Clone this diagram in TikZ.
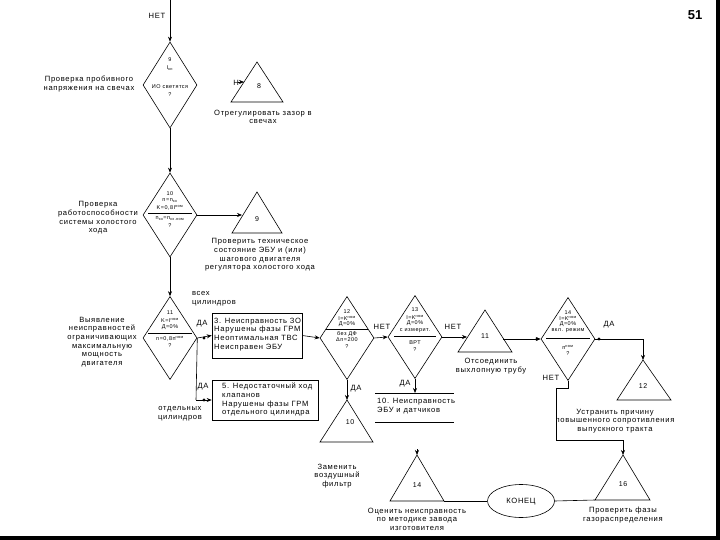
\documentclass[tikz,border=0pt]{standalone}
\usepackage{fontspec}
\setmainfont{Liberation Sans}[LetterSpace=9]
\usetikzlibrary{shapes.geometric,arrows.meta}
\begin{document}
\begin{tikzpicture}[x=1pt,y=-1pt,
  lbl/.style={font=\fontsize{7.6}{8.6}\selectfont, align=center, inner sep=0},
  lbll/.style={font=\fontsize{7.6}{8.6}\selectfont, anchor=west, inner sep=0},
  sm/.style={font=\fontsize{5.5}{6}\selectfont, inner sep=0},
  diam/.style={draw, shape=diamond, inner sep=0, minimum width=54pt, minimum height=83pt, line width=0.6pt},
  arr/.style={-{Stealth[length=5pt,width=4pt]}, line width=0.6pt},
  ln/.style={line width=0.6pt},
  dotm/.style={circle, fill, inner sep=0, minimum size=3.2pt},
  boxn/.style={draw, line width=0.6pt, inner sep=0},
  elln/.style={draw, ellipse, line width=0.6pt, inner sep=0, minimum width=67pt, minimum height=33pt}]
\useasboundingbox (0,0) rectangle (720,540);
\fill[white] (0,0) rectangle (720,540);
\fill[black] (716,0) rectangle (720,540);
\fill[black] (0,536) rectangle (720,540);

\node[font=\bfseries\fontsize{13}{14}\selectfont\addfontfeatures{LetterSpace=0}, inner sep=0] (pg) at (695,15) {51};

% ---------- diamond 9
\coordinate (top) at (170,0);
\node[diam, minimum height=86pt] (d9) at (170,85) {};
\draw[arr] (top) -- (d9.north);
\node[lbl] (nettop) at (157,16) {НЕТ};
\node[sm] (d9a) at (170,60) {9};
\node[sm] (d9b) at (170,68) {I\textsubscript{кн}};
\node[sm] (d9c) at (170,87) {ИО светятся};
\node[sm] (d9d) at (170,95) {?};
\node[lbl] (t9txt) at (89,84) {Проверка пробивного\\напряжения на свечах};

% triangle 8
\coordinate (t8a) at (257,62); \coordinate (t8l) at (231,102); \coordinate (t8r) at (283,102);
\draw[ln] (t8a) -- (t8l) -- (t8r) -- cycle;
\node[sm, font=\fontsize{7}{8}\selectfont] (t8n) at (259,86) {8};
\node[lbl] (t8h) at (236,83) {Н};
\coordinate (t8s) at (238,82); \coordinate (t8in) at (244,82);
\draw[arr] (t8s) -- (t8in);
\node[lbl] (t8txt) at (263,117) {Отрегулировать зазор в\\свечах};

% ---------- diamond 10
\node[diam, minimum height=84pt] (d10) at (170,215) {};
\draw[arr] (d9.south) -- (d10.north);
\node[sm] (d10a) at (170,194) {10};
\node[sm] (d10b) at (170,201) {n=n\textsubscript{хх}};
\node[sm] (d10c) at (170,207.5) {K=0,8I\textsuperscript{ном}};
\draw[ln] (148,213) -- (192,213);
\node[sm] (d10d) at (170,219) {n\textsubscript{хх}=n\textsubscript{хх.ном}};
\node[sm] (d10e) at (170,226) {?};
\node[lbl] (d10txt) at (98,218) {Проверка\\работоспособности\\системы холостого\\хода};

% triangle 9
\coordinate (t9a) at (257,192); \coordinate (t9l) at (232,233); \coordinate (t9r) at (282,233);
\draw[ln] (t9a) -- (t9l) -- (t9r) -- cycle;
\node[sm, font=\fontsize{7}{8}\selectfont] (t9n) at (257,219) {9};
\coordinate (t9in) at (242,215);
\draw[arr] (d10.east) -- (t9in);
\node[lbl] (t9txt) at (260,255) {Проверить техническое\\состояние ЭБУ и (или)\\шагового двигателя\\регулятора холостого хода};

% ---------- diamond 11
\node[diam] (d11) at (170,338) {};
\draw[arr] (d10.south) -- (d11.north);
\node[sm] (d11a) at (170,313) {11};
\node[sm] (d11b) at (170,320) {K=I\textsuperscript{ном}};
\node[sm] (d11c) at (170,327) {Д=0\%};
\draw[ln] (148,333) -- (192,333);
\node[sm] (d11d) at (170,339) {n=0,8n\textsuperscript{ном}};
\node[sm] (d11e) at (170,346) {?};
\node[lbl] (d11txt) at (102,342) {Выявление\\неисправностей\\ограничивающих\\максимальную\\мощность\\двигателя};
\node[lbl, align=left] (vseh) at (214,299) {всех\\цилиндров};
\node[lbl] (da11a) at (202,324) {ДА};
\node[lbl] (da11b) at (203,387) {ДА};
\node[lbl] (otd) at (180,414) {отдельных\\цилиндров};

% boxes
\node[boxn, minimum width=90pt, minimum height=45pt] (b3) at (257,335.5) {};
\node[lbll] (b3t) at (214,334.5) {\begin{tabular}{@{}l@{}}3. Неисправность ЗО\\Нарушены фазы ГРМ\\Неоптимальная ТВС\\Неисправен ЭБУ\end{tabular}};
\node[boxn, minimum width=106pt, minimum height=40pt] (b5) at (265,400) {};
\node[lbll] (b5t) at (222,400) {\begin{tabular}{@{}l@{}}5. Недостаточный ход\\клапанов\\Нарушены фазы ГРМ\\отдельного цилиндра\end{tabular}};
\node[dotm] (dt1) at (204,338) {};
\draw[arr] (d11.east) -- (b3.west);
\coordinate (c11) at (196,400);
\draw[ln] (d11.east) -- (c11);
\node[dotm] (dt2) at (204,400) {};
\draw[arr] (c11) -- (b5.west);

% ---------- diamond 12
\node[diam] (d12) at (347,338) {};
\draw[arr] (b3.east) -- (d12.west);
\node[sm] (d12a) at (347,312) {12};
\node[sm] (d12b) at (347,318) {I=K\textsuperscript{ном}};
\node[sm] (d12c) at (347,324) {Д=0\%};
\draw[ln] (326,329) -- (368,329);
\node[sm] (d12d) at (347,334) {без ДФ};
\node[sm] (d12e) at (347,340) {Δn=200};
\node[sm] (d12f) at (347,347) {?};
\node[lbl] (net12) at (382,327) {НЕТ};
\node[lbl] (da12) at (356,389) {ДА};

% triangle 10
\coordinate (t10a) at (347,400); \coordinate (t10l) at (320,442); \coordinate (t10r) at (373,442);
\draw[ln] (t10a) -- (t10l) -- (t10r) -- cycle;
\node[sm, font=\fontsize{7}{8}\selectfont] (t10n) at (350,422) {10};
\draw[arr] (d12.south) -- (t10a);
\node[lbl] (t10txt) at (337,476) {Заменить\\воздушный\\фильтр};

% ---------- diamond 13
\node[diam] (d13) at (415,337) {};
\draw[arr] (d12.east) -- (d13.west);
\node[sm] (d13a) at (415,310) {13};
\node[sm] (d13b) at (415,317) {I=K\textsuperscript{ном}};
\node[sm] (d13c) at (415,323) {Д=0\%};
\node[sm] (d13d) at (415,331) {с измерит.};
\draw[ln] (394,336) -- (436,336);
\node[sm] (d13e) at (415,343) {ВРТ};
\node[sm] (d13f) at (415,350) {?};
\node[lbl] (da13) at (405,384) {ДА};
\node[lbl] (net13) at (453,327) {НЕТ};
\coordinate (s1l) at (375,393); \coordinate (s1r) at (454,393);
\coordinate (s2l) at (375,422); \coordinate (s2r) at (454,422);
\draw[ln] (s1l) -- (s1r);
\draw[ln] (s2l) -- (s2r);
\coordinate (s1in) at (415,393);
\draw[arr] (d13.south) -- (s1in);
\node[lbll] (s1t) at (377,406) {\begin{tabular}{@{}l@{}}10. Неисправность\\ЭБУ и датчиков\end{tabular}};

% triangle 11
\coordinate (t11a) at (485,310); \coordinate (t11l) at (458,352); \coordinate (t11r) at (512,352);
\draw[ln] (t11a) -- (t11l) -- (t11r) -- cycle;
\node[sm, font=\fontsize{7}{8}\selectfont] (t11n) at (485,336) {11};
\coordinate (t11in) at (467,337);
\draw[arr] (d13.east) -- (t11in);
\node[lbl] (t11txt) at (491,366) {Отсоединить\\выхлопную трубу};
\coordinate (t11out) at (503,339);

% ---------- diamond 14
\node[diam] (d14) at (568,339) {};
\draw[arr] (t11out) -- (d14.west);
\node[dotm] (dt3) at (537,339) {};
\node[sm] (d14a) at (568,313) {14};
\node[sm] (d14b) at (568,318.5) {I=K\textsuperscript{ном}};
\node[sm] (d14c) at (568,324) {Д=0\%};
\node[sm] (d14d) at (568,331) {вкл. режим};
\draw[ln] (546,338) -- (590,338);
\node[sm] (d14e) at (568,347) {n\textsuperscript{ном}};
\node[sm] (d14f) at (568,354) {?};
\node[lbl] (da14) at (609,325) {ДА};
\node[lbl] (net14) at (551,378) {НЕТ};
\node[dotm] (dt4) at (599,339) {};

% triangle 12
\coordinate (t12a) at (643,360); \coordinate (t12l) at (617,400); \coordinate (t12r) at (671,400);
\draw[ln] (t12a) -- (t12l) -- (t12r) -- cycle;
\node[sm, font=\fontsize{7}{8}\selectfont] (t12n) at (643,386) {12};
\coordinate (c14a) at (643,339);
\draw[arr] (d14.east) -- (c14a) -- (t12a);
\node[lbl] (t12txt) at (615,421) {Устранить причину\\повышенного сопротивления\\выпускного тракта};

% triangle 16
\coordinate (t16a) at (623,455); \coordinate (t16l) at (595,500); \coordinate (t16r) at (650,500);
\draw[ln] (t16a) -- (t16l) -- (t16r) -- cycle;
\node[sm, font=\fontsize{7}{8}\selectfont] (t16n) at (623,484) {16};
\coordinate (c1) at (568,388); \coordinate (c2) at (556,388);
\coordinate (c3) at (556,440); \coordinate (c4) at (623,440);
\draw[arr] (d14.south) -- (c1) -- (c2) -- (c3) -- (c4) -- (t16a);
\node[lbl] (t16txt) at (623,515) {Проверить фазы\\газораспределения};

% triangle 14
\coordinate (t14a) at (417,455); \coordinate (t14l) at (390,501); \coordinate (t14r) at (444,501);
\draw[ln] (t14a) -- (t14l) -- (t14r) -- cycle;
\node[sm, font=\fontsize{7}{8}\selectfont] (t14n) at (417,485) {14};
\coordinate (t14s) at (417,449);
\draw[arr] (t14s) -- (t14a);
\node[lbl] (t14txt) at (417,519) {Оценить неисправность\\по методике завода\\изготовителя};

% end
\node[elln] (end) at (521,501) {};
\node[lbl] (endt) at (521,502) {КОНЕЦ};
\draw[ln] (t14r) -- (end.west);
\draw[ln] (end.east) -- (t16l);
\end{tikzpicture}
\end{document}
